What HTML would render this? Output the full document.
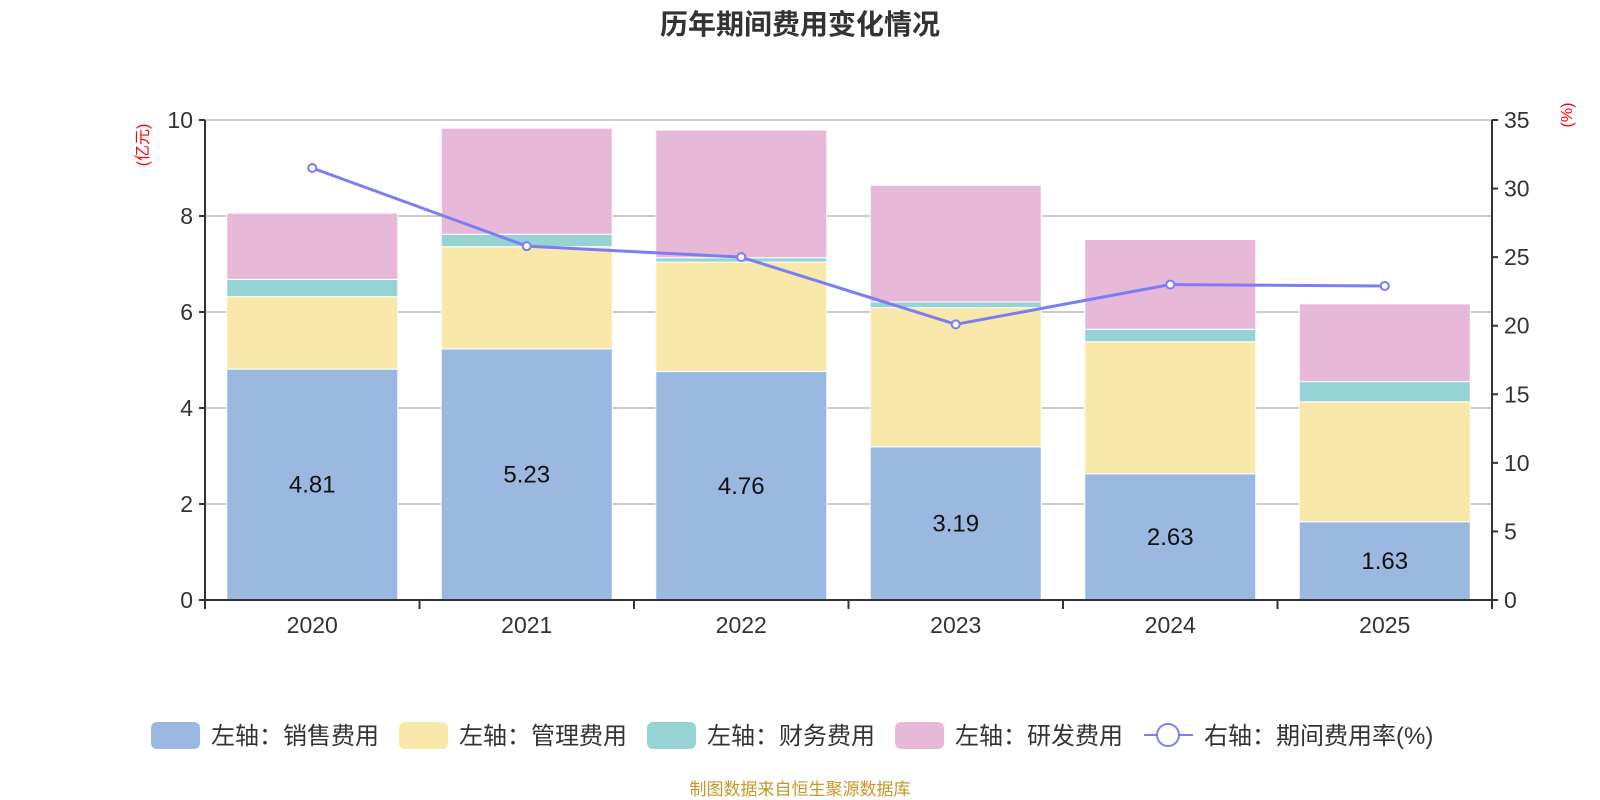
<!DOCTYPE html>
<html><head><meta charset="utf-8"><style>
body{margin:0;background:#fff;}
svg{display:block;font-family:"Liberation Sans","Noto Sans CJK SC",sans-serif;}
</style></head><body>
<svg id="chart" width="1600" height="800" viewBox="0 0 1600 800">
<text x="800" y="34" text-anchor="middle" font-size="28" font-weight="bold" fill="#333">历年期间费用变化情况</text>
<text transform="translate(148,145) rotate(-90)" text-anchor="middle" font-size="16" fill="#f00">(亿元)</text>
<text transform="translate(1572,115) rotate(-90)" text-anchor="middle" font-size="16" fill="#f00">(%)</text>
<g id="grid"></g><g id="bars"></g><g id="axes"></g><g id="line"></g><g id="legend"></g>
<text x="800" y="795" text-anchor="middle" font-size="17" fill="#c8952a">制图数据来自恒生聚源数据库</text>
</svg>
<script>
const years=["2020","2021","2022","2023","2024","2025"];
const sales=[4.81,5.23,4.76,3.19,2.63,1.63];
const mgmt=[1.51,2.13,2.28,2.90,2.75,2.50];
const fin=[0.36,0.26,0.09,0.12,0.26,0.42];
const rnd=[1.38,2.21,2.66,2.43,1.87,1.62];
const rate=[31.5,25.8,25.0,20.1,23.0,22.9];
const leftTicks=[0,2,4,6,8,10];
const rightTicks=[0,5,10,15,20,25,30,35];
const NS="http://www.w3.org/2000/svg";
const L=205,R=1492,Y0=600,Y1=120;
const yL=v=>Y0-(Y0-Y1)*v/10;
const yR=v=>Y0-(Y0-Y1)*v/35;
const band=(R-L)/years.length;
const xC=i=>L+band*(i+0.5);
const bw=171;
function mk(tag,attrs,parent){const e=document.createElementNS(NS,tag);for(const k in attrs)e.setAttribute(k,attrs[k]);document.getElementById(parent).appendChild(e);return e;}
leftTicks.forEach(t=>{
 const g=mk('line',{x1:L,x2:R,y1:yL(t),y2:yL(t),stroke:'#ccc','stroke-width':2},'grid');
 
 
 const tk=mk('line',{x1:L-6,x2:L,y1:yL(t),y2:yL(t),stroke:'#333','stroke-width':2},'axes');
 
 
 const tx=mk('text',{x:L-12,y:yL(t)+8,'text-anchor':'end','font-size':23,fill:'#333'},'axes');tx.textContent=t;
 
 
});
rightTicks.forEach(t=>{
 const tk=mk('line',{x1:R,x2:R+6,y1:yR(t),y2:yR(t),stroke:'#333','stroke-width':2},'axes');
 
 
 const tx=mk('text',{x:R+12,y:yR(t)+8,'font-size':23,fill:'#333'},'axes');tx.textContent=t;
 
 
});
const series=[[sales,'#9bb8e1','sales'],[mgmt,'#f8e8a9','mgmt'],[fin,'#96d3d4','finance'],[rnd,'#e7b8d7','rnd']];
years.forEach((y,i)=>{
 let base=0;
 series.forEach(([arr,c,n])=>{
  const r=mk('rect',{x:xC(i)-bw/2,y:yL(base+arr[i]),width:bw,height:yL(base)-yL(base+arr[i]),fill:c,stroke:'#fff','stroke-width':1},'bars');
  
  
  base+=arr[i];
 });
 const lb=mk('text',{x:xC(i),y:(yL(0)+yL(sales[i]))/2+8,'text-anchor':'middle','font-size':24,fill:'#111'},'bars');lb.textContent=sales[i].toFixed(2);
 
 
 const xt=mk('text',{x:xC(i),y:Y0+33,'text-anchor':'middle','font-size':23,fill:'#333'},'axes');xt.textContent=y;
 
 
});
for(let i=0;i<=years.length;i++){
 const t=mk('line',{x1:L+band*i,x2:L+band*i,y1:Y0,y2:Y0+9,stroke:'#333','stroke-width':2},'axes');
 
 
}
[[L,Y1,L,Y0],[R,Y1,R,Y0+9],[L,Y0,R,Y0]].forEach(a=>{
 const l=mk('line',{x1:a[0],y1:a[1],x2:a[2],y2:a[3],stroke:'#333','stroke-width':2},'axes');
 
 
});
const pl=mk('polyline',{points:rate.map((v,i)=>xC(i)+','+yR(v)).join(' '),fill:'none',stroke:'#7b7ef2','stroke-width':3},'line');


rate.forEach((v,i)=>{
 const c=mk('circle',{cx:xC(i),cy:yR(v),r:4,fill:'#fff',stroke:'#7b7ef2','stroke-width':2},'line');
 
 
});
const legs=[['左轴：销售费用','#9bb8e1',151],['左轴：管理费用','#f8e8a9',399],['左轴：财务费用','#96d3d4',647],['左轴：研发费用','#e7b8d7',895]];
legs.forEach(([t,c,x])=>{
 const r=mk('rect',{x:x,y:722,width:49,height:27,rx:6,fill:c},'legend');
 
 
 const tx=mk('text',{x:x+60,y:744,'font-size':24,fill:'#333'},'legend');tx.textContent=t;
 
 
});
const ll=mk('line',{x1:1144,x2:1193,y1:735,y2:735,stroke:'#7b7ef2','stroke-width':2},'legend');


const lc=mk('circle',{cx:1168,cy:735,r:11,fill:'#fff',stroke:'#7b7ef2','stroke-width':2},'legend');


const lt=mk('text',{x:1204,y:744,'font-size':24,fill:'#333'},'legend');lt.textContent='右轴：期间费用率(%)';


</script>
</body></html>
